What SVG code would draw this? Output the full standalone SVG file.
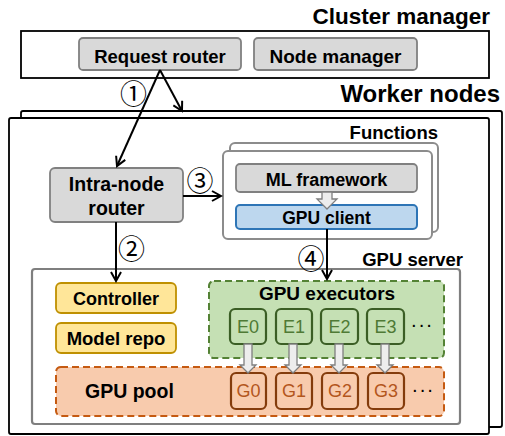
<svg xmlns="http://www.w3.org/2000/svg" width="505" height="436" viewBox="0 0 505 436">
<defs>
<style>
text{font-family:"Liberation Sans",Arial,sans-serif;fill:#000}
.b{font-weight:bold}
.gray{fill:#d9d9d9;stroke:#808080;stroke-width:1.8}
.frame{fill:#fff;stroke:#000;stroke-width:1.8}
.func{fill:#fff;stroke:#8c8c8c;stroke-width:2}
.yel{fill:#ffe699;stroke:#bf9000;stroke-width:1.8}
.ebox{fill:#c5e0b4;stroke:#3b5e25;stroke-width:2.2}
.gbox{fill:#f8cbad;stroke:#843c0c;stroke-width:2.2}
.et{font-size:18px;fill:#4f7a35;text-anchor:middle}
.gt{font-size:18px;fill:#b3561c;text-anchor:middle}
.num{font-family:"Noto Sans CJK SC","DejaVu Sans",sans-serif;font-size:27px;text-anchor:middle}
.conn{fill:none;stroke:#000;stroke-width:2}
.hollow{fill:#ededed;stroke:#7f7f7f;stroke-width:1.3}
.c{text-anchor:middle}
.r{text-anchor:end}
</style>
<marker id="ah" markerWidth="12" markerHeight="12" refX="10" refY="6" orient="auto" markerUnits="userSpaceOnUse">
<path d="M1,1 L10,6 L1,11" fill="none" stroke="#000" stroke-width="2"/>
</marker>
</defs>

<g id="cluster-manager">
<text x="490" y="24" class="b r" font-size="22.5">Cluster manager</text>
<rect x="21" y="31" width="468" height="47" class="frame"/>
</g>
<g id="request-router">
<rect x="79" y="38" width="162" height="32" rx="4" class="gray"/>
<text x="160" y="63" class="b c" font-size="18.5">Request router</text>
</g>
<g id="node-manager">
<rect x="254" y="38" width="163" height="32" rx="4" class="gray"/>
<text x="335.5" y="63" class="b c" font-size="19">Node manager</text>
</g>

<g id="worker-nodes">
<text x="500" y="102" class="b r" font-size="24">Worker nodes</text>
<rect x="21" y="111" width="481" height="316" rx="2" class="frame"/>
<rect x="9" y="118" width="480" height="316" rx="2" class="frame"/>
</g>

<g id="intra-node-router">
<rect x="50" y="168" width="133" height="54" rx="5" class="gray"/>
<text x="116.5" y="191" class="b c" font-size="19.5">Intra-node</text>
<text x="116.5" y="215" class="b c" font-size="19.5">router</text>
</g>

<g id="functions">
<text x="438" y="139" class="b r" font-size="18.5">Functions</text>
<rect x="230" y="143" width="208" height="89" rx="5" class="func"/>
<rect x="223" y="151" width="209" height="88" rx="5" class="func"/>
</g>
<g id="ml-framework">
<rect x="236" y="164" width="181" height="28" rx="4" class="gray"/>
<text x="326.5" y="186" class="b c" font-size="18">ML framework</text>
</g>
<g id="gpu-client">
<rect x="236" y="205" width="181" height="24" rx="4" fill="#bdd7ee" stroke="#2e75b6" stroke-width="2"/>
<text x="326.5" y="224" class="b c" font-size="17.5">GPU client</text>
<path d="M322,192 H332 V199 H337 L327,209 L317,199 H322 Z" class="hollow"/>
</g>

<g id="gpu-server">
<text x="463" y="266" class="b r" font-size="18.5">GPU server</text>
<rect x="32" y="269" width="428" height="155" rx="3" fill="#fff" stroke="#7f7f7f" stroke-width="2.2"/>
</g>
<g id="controller">
<rect x="56" y="283" width="120" height="30" rx="5" class="yel"/>
<text x="116" y="305" class="b c" font-size="18">Controller</text>
</g>
<g id="model-repo">
<rect x="56" y="323" width="120" height="30" rx="5" class="yel"/>
<text x="116" y="345" class="b c" font-size="18.5">Model repo</text>
</g>

<g id="gpu-executors">
<rect x="209" y="281" width="235" height="77" rx="5" fill="#c5e0b4" stroke="#548235" stroke-width="2" stroke-dasharray="7,4"/>
<text x="327" y="300" class="b c" font-size="19">GPU executors</text>
<text x="422" y="331" class="c" font-size="20" letter-spacing="1">···</text>
</g>
<g id="gpu-pool">
<rect x="56" y="367" width="388" height="49" rx="5" fill="#f8cbad" stroke="#c55a11" stroke-width="2" stroke-dasharray="7,4"/>
<text x="85" y="398" class="b" font-size="19.5">GPU pool</text>
<text x="423" y="396" class="c" font-size="20" letter-spacing="1">···</text>
</g>

<g id="e0"><rect x="230" y="309" width="36" height="35" rx="5" class="ebox"/><text x="248" y="333" class="et">E0</text></g>
<g id="e1"><rect x="276" y="309" width="36" height="35" rx="5" class="ebox"/><text x="294" y="333" class="et">E1</text></g>
<g id="e2"><rect x="321" y="309" width="37" height="35" rx="5" class="ebox"/><text x="339.5" y="333" class="et">E2</text></g>
<g id="e3"><rect x="367" y="309" width="37" height="35" rx="5" class="ebox"/><text x="385.5" y="333" class="et">E3</text></g>

<g id="g0"><rect x="231" y="373" width="35" height="36" rx="5" class="gbox"/><text x="248.5" y="397" class="gt">G0</text></g>
<g id="g1"><rect x="276" y="373" width="36" height="36" rx="5" class="gbox"/><text x="294" y="397" class="gt">G1</text></g>
<g id="g2"><rect x="322" y="373" width="36" height="36" rx="5" class="gbox"/><text x="340" y="397" class="gt">G2</text></g>
<g id="g3"><rect x="368" y="373" width="36" height="36" rx="5" class="gbox"/><text x="386" y="397" class="gt">G3</text></g>

<g id="connectors">
<path d="M160,70 L117,166" class="conn" marker-end="url(#ah)"/>
<path d="M160,70 L182,111" class="conn" marker-end="url(#ah)"/>
<path d="M183,196 L221,196" class="conn" marker-end="url(#ah)"/>
<path d="M116,222 L116,281" class="conn" marker-end="url(#ah)"/>
<path d="M327,229 L327,279" class="conn" marker-end="url(#ah)"/>
<text x="133.5" y="104" class="num">①</text>
<text x="200" y="191" class="num">③</text>
<text x="131.5" y="259" class="num">②</text>
<text x="311" y="269" class="num">④</text>
<path d="M244,344 H252 V365 H256 L248,373 L240,365 H244 Z" class="hollow"/>
<path d="M289,344 H297 V365 H301 L293,373 L285,365 H289 Z" class="hollow"/>
<path d="M335,344 H343 V365 H347 L339,373 L331,365 H335 Z" class="hollow"/>
<path d="M381,344 H389 V365 H393 L385,373 L377,365 H381 Z" class="hollow"/>
</g>
</svg>
